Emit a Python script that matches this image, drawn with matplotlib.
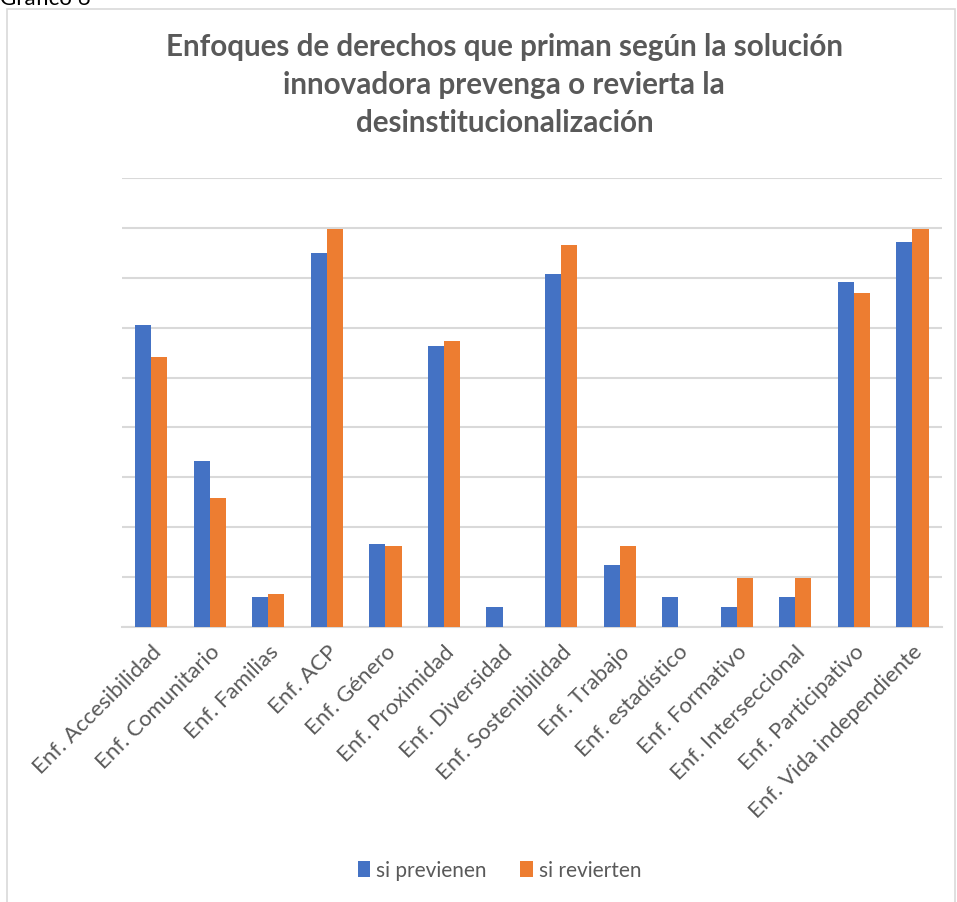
import numpy as np
import matplotlib.pyplot as plt
from matplotlib.patches import Rectangle

categories = ["Enf. Accesibilidad", "Enf. Comunitario", "Enf. Familias", "Enf. ACP",
              "Enf. Género", "Enf. Proximidad", "Enf. Diversidad", "Enf. Sostenibilidad",
              "Enf. Trabajo", "Enf. estadístico", "Enf. Formativo", "Enf. Interseccional",
              "Enf. Participativo", "Enf. Vida independiente"]
previenen = [6.06, 3.32, 0.6, 7.5, 1.66, 5.64, 0.4, 7.08, 1.24, 0.6, 0.4, 0.6, 6.92, 7.72]
revierten = [5.42, 2.58, 0.66, 7.98, 1.62, 5.74, 0, 7.66, 1.62, 0, 0.98, 0.98, 6.7, 7.98]

plt.rcParams['font.family'] = ['Lato', 'DejaVu Sans']
grey = "#595959"

fig = plt.figure(figsize=(9.57, 9.03), dpi=100)
ax = fig.add_axes([0.1275, 0.3045, 0.8565, 0.4973])

# chart frame
fig.patches.append(Rectangle((7 / 957, -0.01), 948 / 957, 1 - 10 / 903 + 0.01,
                             transform=fig.transFigure, fill=False,
                             edgecolor="#d9d9d9", linewidth=1.2))
fig.text(0.0, 1 - 5 / 903, "Gráfico 6", fontsize=16, color="black", va="baseline", ha="left")

x = np.arange(len(categories))
w = 0.275
ax.bar(x - w / 2, previenen, w, color="#4472C4", label="si previenen", zorder=3)
ax.bar(x + w / 2, revierten, w, color="#ED7D31", label="si revierten", zorder=3)

ax.set_xlim(-0.5, len(categories) - 0.5)
ax.set_ylim(0, 9)
ax.set_yticks(np.arange(0, 10, 1))
ax.yaxis.grid(True, color="#d9d9d9", linewidth=1.5, zorder=0)
ax.tick_params(axis="y", left=False, labelleft=False)
ax.tick_params(axis="x", length=0, pad=10)
for s in ["top", "right", "left"]:
    ax.spines[s].set_visible(False)
ax.spines["bottom"].set_color("#d9d9d9")
ax.spines["bottom"].set_linewidth(1.5)

ax.set_xticks(x)
ax.set_xticklabels(categories, rotation=45, ha="right", rotation_mode="anchor",
                   fontsize=16, color=grey)

fig.text(0.527, 1 - 85 / 903, "Enfoques de derechos que priman según la solución\n"
         "innovadora prevenga o revierta la\ndesinstitucionalización",
         ha="center", va="center", fontsize=21.3, fontweight="bold", color=grey,
         linespacing=1.45)

fig.legend(loc="center", bbox_to_anchor=(0.522, 1 - 871 / 903), ncol=2, frameon=False,
           fontsize=15, labelcolor=grey, handlelength=0.6, handleheight=0.8,
           handletextpad=0.3, columnspacing=1.6)

fig.savefig("out.png", dpi=100)
